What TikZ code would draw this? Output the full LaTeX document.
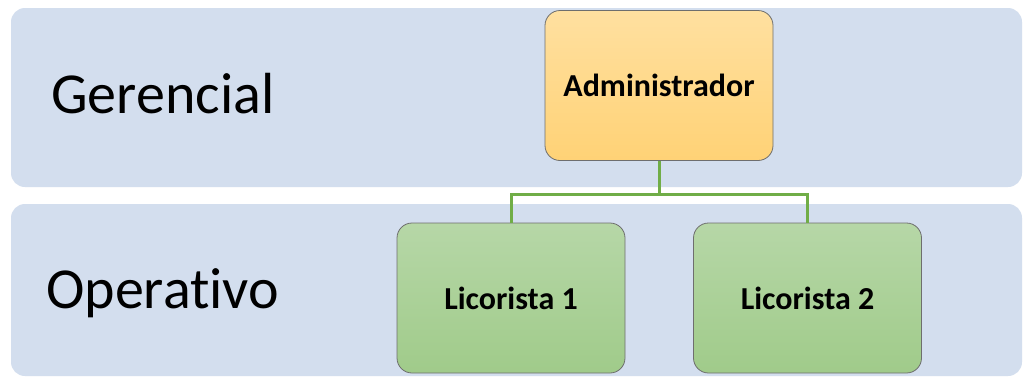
\documentclass[tikz,border=0pt]{standalone}
\usepackage{fontspec}
\setmainfont{Carlito}[Ligatures=NoCommon]
\definecolor{bandc}{RGB}{211,222,238}
\definecolor{goldtop}{RGB}{255,224,160}
\definecolor{goldbot}{RGB}{255,210,118}
\definecolor{greentop}{RGB}{182,215,167}
\definecolor{greenbot}{RGB}{160,203,138}
\definecolor{connc}{RGB}{112,173,71}
\definecolor{edgec}{RGB}{110,110,110}
\tikzset{
  band/.style={fill=bandc, draw=none, rounded corners=14pt},
  levellabel/.style={anchor=base west, inner sep=0pt, font=\fontsize{58}{60}\selectfont},
  box/.style={draw=edgec, line width=0.8pt, rounded corners=15pt, minimum width=228pt, minimum height=150pt,
    inner sep=0pt, font=\bfseries\fontsize{32}{34}\selectfont},
  goldbox/.style={box, top color=goldtop, bottom color=goldbot},
  greenbox/.style={box, top color=greentop, bottom color=greenbot},
  conn/.style={draw=connc, line width=3pt}
}
\begin{document}
\begin{tikzpicture}[x=1pt,y=-1pt]
\useasboundingbox (0,0) rectangle (1024,378);
\fill[white] (0,0) rectangle (1024,378);
\path[band] (11,8) rectangle (1022,187);
\path[band] (11,204) rectangle (1022,376);
\node[levellabel] (ger) at (51,113) {Gerencial};
\node[levellabel] (ope) at (46,308) {Operativo};
\node[goldbox] (adm) at (659,85.5) {Administrador};
\node[greenbox] (l1) at (511,298) {Licorista 1};
\node[greenbox] (l2) at (807.5,298) {Licorista 2};
\coordinate (bus) at (0,194);
\draw[conn] (adm.south) -- (adm.south |- bus) -| (l1.north);
\draw[conn] (adm.south |- bus) -| (l2.north);
\end{tikzpicture}
\end{document}
